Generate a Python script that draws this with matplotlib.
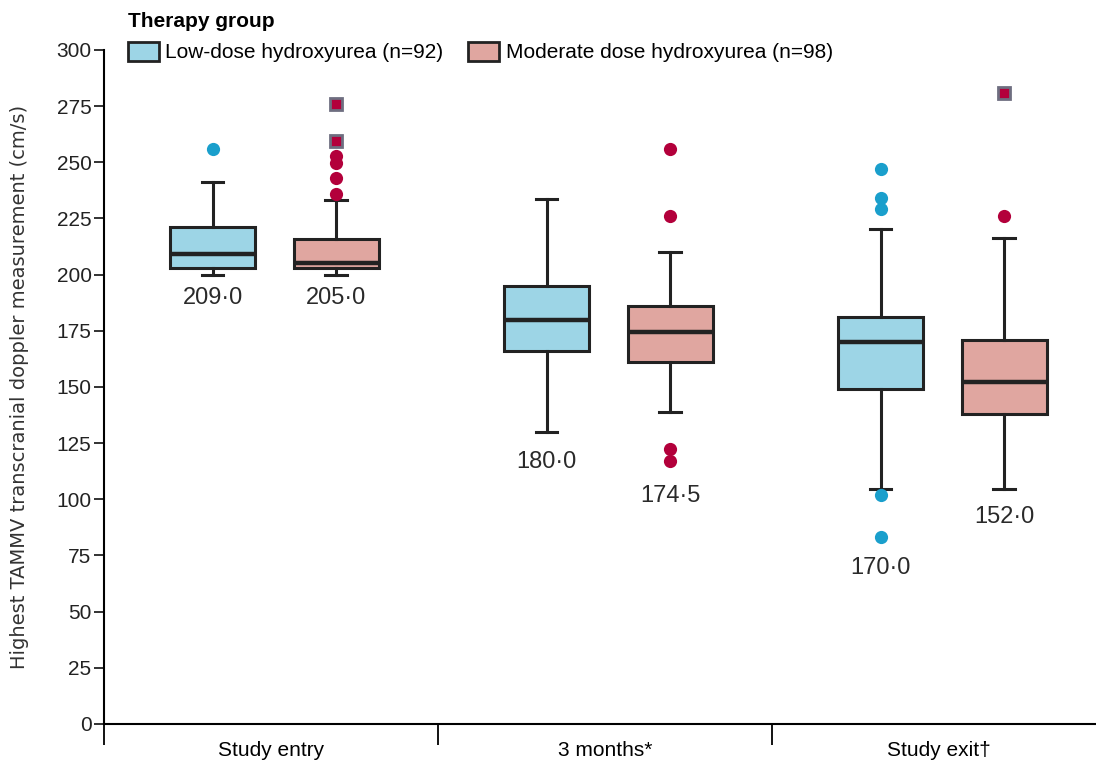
import matplotlib
matplotlib.use("Agg")
import matplotlib.pyplot as plt
from matplotlib.patches import Patch

plt.rcParams['font.family'] = ['Liberation Sans', 'DejaVu Sans']

timepoints = ['Study entry', '3 months*', 'Study exit\u2020']
groups = ['Low-dose hydroxyurea (n=92)', 'Moderate dose hydroxyurea (n=98)']

# box stats per timepoint: [low, moderate]
q1 = [[203, 203], [166, 161], [149, 138]]
med = [[209.0, 205.0], [180.0, 174.5], [170.0, 152.0]]
q3 = [[221, 216], [195, 186], [181, 171]]
whislo = [[200, 200], [130, 139], [104.5, 104.5]]
whishi = [[241, 233], [233.5, 210], [220.5, 216.5]]
out_circle = [[[256], [236, 243, 249.5, 253]],
              [[], [256, 226, 122.5, 117]],
              [[247, 234, 229, 102, 83], [226]]]
out_square = [[[], [259.5, 276]],
              [[], []],
              [[], [281]]]
med_label = [['209\u00b70', '205\u00b70'], ['180\u00b70', '174\u00b75'], ['170\u00b70', '152\u00b70']]
label_y = [[189.5, 189.5], [116.5, 101.5], [69.5, 92]]

fills = ['#9dd5e6', '#e0a6a0']
dots = ['#1a9fcc', '#b3003b']
edge = '#222222'

fig = plt.figure(figsize=(10.96, 7.6), dpi=100)
ax = fig.add_axes([0.0949, 0.0474, 0.9051, 0.8869])

offsets = [-0.175, 0.195]
for t in range(len(timepoints)):
    for g in range(2):
        pos = t + offsets[g]
        stats = [dict(med=med[t][g], q1=q1[t][g], q3=q3[t][g],
                      whislo=whislo[t][g], whishi=whishi[t][g], fliers=[])]
        ax.bxp(stats, positions=[pos], widths=0.254, patch_artist=True,
               showfliers=False, capwidths=0.065, manage_ticks=False,
               boxprops=dict(facecolor=fills[g], edgecolor=edge, linewidth=2.2),
               medianprops=dict(color=edge, linewidth=3.2),
               whiskerprops=dict(color=edge, linewidth=2.2),
               capprops=dict(color=edge, linewidth=2.2))
        if out_circle[t][g]:
            ax.plot([pos] * len(out_circle[t][g]), out_circle[t][g], 'o',
                    color=dots[g], markersize=9.5, markeredgewidth=0, zorder=4)
        if out_square[t][g]:
            ax.plot([pos] * len(out_square[t][g]), out_square[t][g], 's',
                    color=dots[g], markersize=9, markeredgecolor='#6e6e80',
                    markeredgewidth=2, zorder=4)
        ax.text(pos, label_y[t][g], med_label[t][g], ha='center', va='center',
                fontsize=17, color='#2a2a2a')

ax.set_yticks(range(0, 301, 25))
ax.tick_params(axis='y', labelsize=15, length=7, width=1.3, pad=2, colors='#222222')
ax.set_xticks([-0.5, 0.5, 1.5])
ax.set_xticklabels([])
ax.set_xticks([0, 1, 2], minor=True)
ax.set_xticklabels(timepoints, minor=True)
ax.tick_params(axis='x', which='major', length=15, width=1.3, direction='out')
ax.tick_params(axis='x', which='minor', length=0, labelsize=15, pad=12)
ax.set_xlim(-0.5, 2.47)
ax.set_ylim(0, 300)
for s in ['top', 'right']:
    ax.spines[s].set_visible(False)
ax.spines['left'].set_linewidth(1.5)
ax.spines['bottom'].set_linewidth(1.5)

ax.set_ylabel('Highest TAMMV transcranial doppler measurement (cm/s)',
              fontsize=14, family=['DejaVu Sans'], color='#333333', labelpad=20)

handles = [Patch(facecolor=fills[i], edgecolor=edge, linewidth=2) for i in range(2)]
leg = fig.legend(handles, groups, loc='upper left', bbox_to_anchor=(0.105, 1.0),
                 ncol=2, frameon=False, fontsize=15, title='Therapy group',
                 title_fontproperties={'weight': 'bold', 'size': 15},
                 alignment='left', handlelength=1.5, handleheight=1.0,
                 handletextpad=0.3, columnspacing=1.2, borderaxespad=0.2)

fig.savefig('out.png', dpi=100)
